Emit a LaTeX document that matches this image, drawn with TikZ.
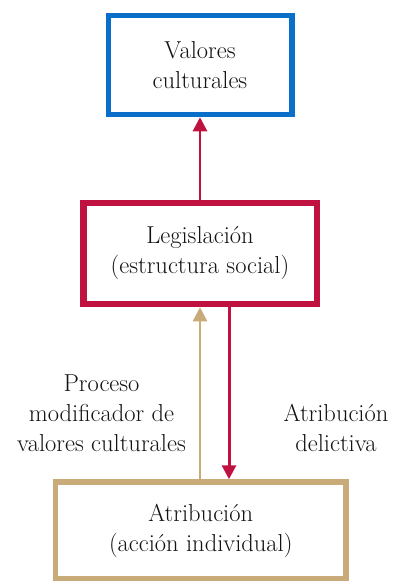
\documentclass[tikz,border=0pt]{standalone}
\usetikzlibrary{arrows.meta}
\definecolor{cblue}{HTML}{0A6FC8}
\definecolor{cred}{HTML}{BF1240}
\definecolor{ctan}{HTML}{C8AB79}
\definecolor{ctext}{HTML}{141212}
\begin{document}
\begin{tikzpicture}[x=1pt,y=-1pt,
  box/.style={draw,rectangle,fill=white,align=center,text=ctext,inner sep=0pt,
    font=\fontsize{24.5}{30}\selectfont},
  lbl/.style={align=center,text=ctext,inner sep=0pt,anchor=south,
    font=\fontsize{24.5}{30}\selectfont},
  arr/.style={-{Triangle[width=14pt,length=14pt]}},
]
\useasboundingbox (0,0) rectangle (395,581);
\node[box,draw=cblue,line width=5.5pt,outer sep=2.75pt,minimum width=183.5pt,minimum height=99pt] (val) at (200,65) {Valores\\culturales};
\node[box,draw=cred,line width=6.5pt,outer sep=3.25pt,minimum width=233.5pt,minimum height=101pt] (leg) at (200,253.5) {Legislación\\(estructura social)};
\node[box,draw=ctan,line width=5.5pt,outer sep=2.75pt,minimum width=290.5pt,minimum height=97pt] (atr) at (200.75,530.5) {Atribución\\(acción individual)};
\draw[arr,cred,line width=2.8pt] (leg.north) -- (val.south);
\draw[arr,ctan,line width=2.5pt] (atr.north -| leg.south) -- (leg.south);
\draw[arr,cred,line width=3pt] ([xshift=29pt]leg.south) -- ([xshift=29pt]leg.south |- atr.north);
\node[lbl] (lp) at (101.5,452) {Proceso\\modificador de\\valores culturales};
\node[lbl] (ld) at (336,452) {Atribución\\delictiva};
\end{tikzpicture}
\end{document}
